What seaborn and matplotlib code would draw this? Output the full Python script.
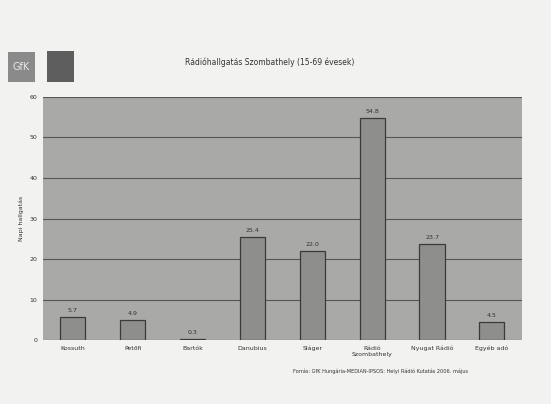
import matplotlib
matplotlib.use('Agg')
import matplotlib.pyplot as plt
import seaborn as sns
import pandas as pd
from matplotlib.patches import Rectangle

# adatok
allomasok = ['Kossuth', 'Petőfi', 'Bartók', 'Danubius', 'Sláger', 'Rádió\nSzombathely', 'Nyugat Rádió', 'Egyéb adó']
ertekek = [5.7, 4.9, 0.3, 25.4, 22.0, 54.8, 23.7, 4.5]
y_ticks = [0, 10, 20, 30, 40, 50, 60]

sns.set_style('white')
plt.rcParams['font.family'] = ['DejaVu Sans']

df = pd.DataFrame({'allomas': allomasok, 'ertek': ertekek})

fig = plt.figure(figsize=(5.51, 4.04), dpi=100, facecolor='#f2f2f0')
ax = fig.add_axes([0.078, 0.158, 0.869, 0.602])
ax.set_facecolor('#a9a9a7')

sns.barplot(data=df, x='allomas', y='ertek', color='#8e8e8c', edgecolor='#3a3a3a',
            linewidth=0.9, width=0.42, saturation=1, ax=ax, zorder=3)

ax.set_ylim(0, 60)
ax.set_yticks(y_ticks)
ax.yaxis.grid(True, color='#555555', linewidth=0.8, zorder=0)
ax.set_axisbelow(True)
for s in ax.spines.values():
    s.set_visible(False)
ax.tick_params(axis='both', length=0, labelsize=4.5, colors='#333333', pad=4)
ax.set_xlabel('')
ax.set_ylabel('Napi hallgatás', fontsize=4.5, color='#333333')

for i, v in enumerate(ertekek):
    ax.text(i, v + 1.0, f'{v:.1f}', ha='center', va='bottom', fontsize=4.5, color='#333333')

fig.text(0.49, 0.845, 'Rádióhallgatás Szombathely (15-69 évesek)', ha='center', va='center',
         fontsize=5.5, color='#333333')
fig.text(0.69, 0.08, 'Forrás: GfK Hungária-MEDIAN-IPSOS: Helyi Rádió Kutatás 2006. május',
         ha='center', va='center', fontsize=3.6, color='#333333')

# logok
fig.patches.append(Rectangle((8 / 551, 1 - 82 / 404), 27 / 551, 30 / 404, transform=fig.transFigure,
                             facecolor='#8a8a8a', edgecolor='none'))
fig.text(21.5 / 551, 1 - 67 / 404, 'GfK', ha='center', va='center', fontsize=7, color='#e8e8e8')
fig.patches.append(Rectangle((47 / 551, 1 - 82 / 404), 27 / 551, 31 / 404, transform=fig.transFigure,
                             facecolor='#5e5e5e', edgecolor='none'))

fig.savefig('out.png', dpi=100, facecolor=fig.get_facecolor())
